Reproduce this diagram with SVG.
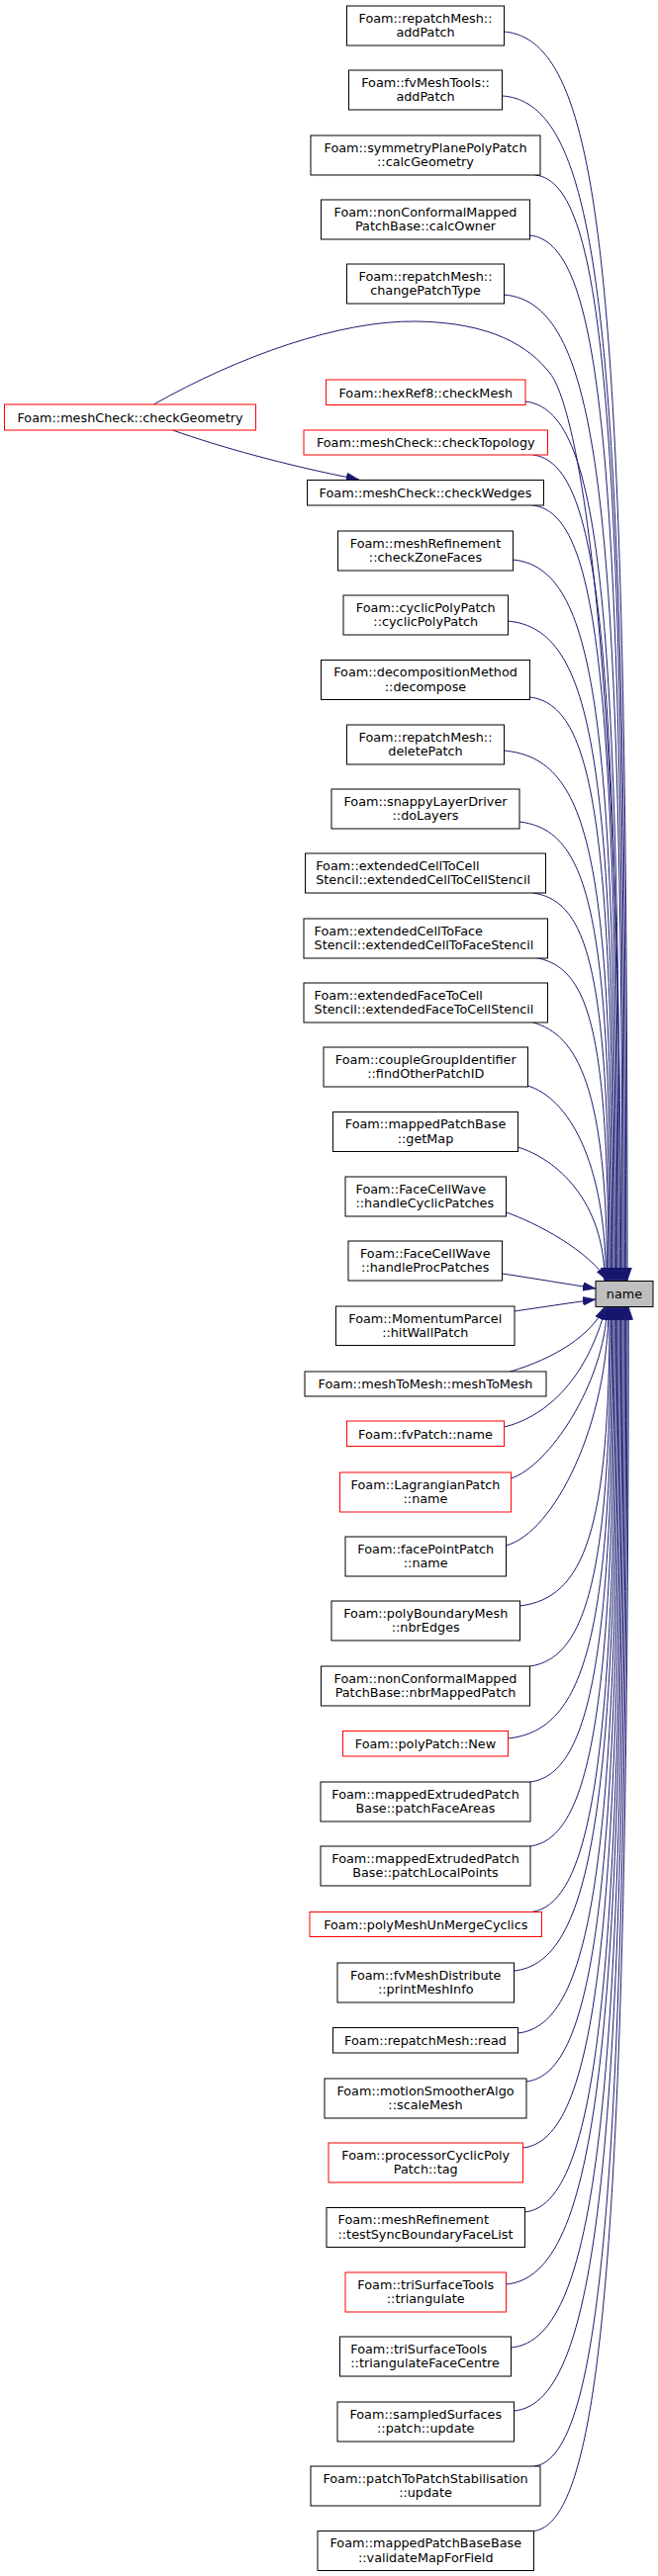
<svg xmlns="http://www.w3.org/2000/svg" width="665" height="2605" viewBox="0 0 665 2605">
<defs>
<style>
.node rect{fill:#fff;stroke:#000;stroke-width:1}
.node.red rect{stroke:#ff0000}
.node.root rect{fill:#bfbfbf}
text{font-family:"DejaVu Sans",sans-serif;font-size:12.8px;fill:#000;text-anchor:middle}
text.l{text-anchor:start}
#edges path{fill:none;stroke:#191970;stroke-width:1;marker-end:url(#ah)}
</style>
<marker id="ah" viewBox="0 0 13 9" refX="13" refY="4.5" markerWidth="13" markerHeight="9" markerUnits="userSpaceOnUse" orient="auto">
<path d="M0,0 L13,4.5 L0,9 z" fill="#191970" stroke="#191970" stroke-width="0.5"/>
</marker>
</defs>
<rect width="665" height="2605" fill="#fff"/>
<g id="edges">
<path d="M509,32 C613.6,40 634,307 634,1295"/>
<path d="M508,97 C612.3,105 632.7,358 632.7,1295"/>
<path d="M541,177 C611,185 631.4,420 631.4,1295"/>
<path d="M535.5,238 C609.8,246 630.1,468 630.1,1295"/>
<path d="M509,298 C608.5,306 628.9,515 628.9,1295"/>
<path d="M155.3,409 C241.9,360 343.7,324 420.1,325 C496.5,326 534.7,350 556.3,378 C579.2,408 627.6,600 627.6,1295"/>
<path d="M174.4,435 C222.8,452 286.4,470 362.8,485"/>
<path d="M530.8,406 C606,414 626.3,599 626.3,1295"/>
<path d="M538.5,460 C604.7,468 625,641 625,1295"/>
<path d="M538.5,511 C603.4,519 623.8,681 623.8,1295"/>
<path d="M518.1,566 C602.1,574 622.5,724 622.5,1295"/>
<path d="M513,628 C600.9,636 621.2,772 621.2,1295"/>
<path d="M535.5,705 C599.6,713 620,832 620,1295"/>
<path d="M509.2,759 C598.3,767 618.7,874 618.7,1295"/>
<path d="M524.5,831 C597,839 617.4,930 617.4,1295"/>
<path d="M538.5,903 C595.8,911 616.1,987 616.1,1295"/>
<path d="M538.5,968 C594.5,976 614.9,1037 614.9,1295"/>
<path d="M538.5,1034 C583,1046 613.6,1099 613.6,1295"/>
<path d="M533.4,1098 C572.9,1110 612.3,1172 612.3,1295"/>
<path d="M523.2,1160 C562.7,1172 611,1215 611,1295"/>
<path d="M511.4,1226 C541,1236 595.8,1265 613.6,1295"/>
<path d="M507.9,1288 C541,1293 570.3,1298 602,1303"/>
<path d="M519.6,1326 C547.4,1322 572.9,1318 602,1314"/>
<path d="M515.6,1387 C560.1,1374 598.3,1350 611,1321.5"/>
<path d="M509.4,1443 C547.4,1434 591.9,1400 612.3,1321.5"/>
<path d="M516.6,1495 C553.8,1483 611,1400 613.6,1321.5"/>
<path d="M511.2,1563 C560.1,1550 614.9,1440 614.9,1321.5"/>
<path d="M525.4,1624 C590.7,1616 616.1,1548 616.1,1321.5"/>
<path d="M535.5,1685 C591.9,1677 617.4,1594 617.4,1321.5"/>
<path d="M513.2,1758 C593.2,1750 618.7,1649 618.7,1321.5"/>
<path d="M535.9,1802 C594.5,1794 620,1682 620,1321.5"/>
<path d="M535.9,1867 C595.8,1859 621.2,1730 621.2,1321.5"/>
<path d="M537.2,1933.5 C597,1925 622.5,1780 622.5,1321.5"/>
<path d="M519.4,1993 C598.3,1985 623.8,1825 623.8,1321.5"/>
<path d="M523.4,2056 C599.6,2048 625,1872 625,1321.5"/>
<path d="M532,2105 C600.9,2097 626.3,1909 626.3,1321.5"/>
<path d="M528.4,2172 C602.1,2164 627.6,1959 627.6,1321.5"/>
<path d="M530.4,2237 C603.4,2229 628.9,2008 628.9,1321.5"/>
<path d="M511.4,2310 C604.7,2302 630.1,2063 630.1,1321.5"/>
<path d="M516.6,2374 C606,2366 631.4,2111 631.4,1321.5"/>
<path d="M519.4,2438 C607.2,2430 632.7,2159 632.7,1321.5"/>
<path d="M539.8,2494 C608.5,2486 633.9,2201 633.9,1321.5"/>
<path d="M539.4,2559.5 C609.8,2551 635.2,2249 635.2,1321.5"/>
</g>
<g id="n1" class="node"><rect x="350.5" y="6" width="159" height="40"/><text x="430" y="22.5">Foam::repatchMesh::</text><text x="430" y="37">addPatch</text></g>
<g id="n2" class="node"><rect x="352.5" y="71" width="155" height="40"/><text x="430" y="87.5">Foam::fvMeshTools::</text><text x="430" y="102">addPatch</text></g>
<g id="n3" class="node"><rect x="314" y="137" width="232" height="40"/><text x="430" y="153.5">Foam::symmetryPlanePolyPatch</text><text x="430" y="168">::calcGeometry</text></g>
<g id="n4" class="node"><rect x="324.5" y="202" width="211" height="40"/><text x="430" y="218.5">Foam::nonConformalMapped</text><text x="430" y="233">PatchBase::calcOwner</text></g>
<g id="n5" class="node"><rect x="350.5" y="267" width="159" height="40"/><text x="430" y="283.5">Foam::repatchMesh::</text><text x="430" y="298">changePatchType</text></g>
<g id="n6" class="node red"><rect x="4.5" y="409" width="254" height="26"/><text x="131.5" y="426.5">Foam::meshCheck::checkGeometry</text></g>
<g id="n7" class="node red"><rect x="329.5" y="384" width="201.5" height="25.5"/><text x="430.25" y="401.5">Foam::hexRef8::checkMesh</text></g>
<g id="n8" class="node red"><rect x="307" y="435" width="246.5" height="25"/><text x="430.25" y="452">Foam::meshCheck::checkTopology</text></g>
<g id="n9" class="node"><rect x="310.5" y="485.5" width="239" height="25.5"/><text x="430" y="503">Foam::meshCheck::checkWedges</text></g>
<g id="n10" class="node"><rect x="341.5" y="537" width="177" height="40"/><text x="430" y="553.5">Foam::meshRefinement</text><text x="430" y="568">::checkZoneFaces</text></g>
<g id="n11" class="node"><rect x="347" y="602" width="166.5" height="40"/><text x="430.25" y="618.5">Foam::cyclicPolyPatch</text><text x="430.25" y="633">::cyclicPolyPatch</text></g>
<g id="n12" class="node"><rect x="324.5" y="667.5" width="211" height="40"/><text x="430" y="684">Foam::decompositionMethod</text><text x="430" y="698.5">::decompose</text></g>
<g id="n13" class="node"><rect x="350.5" y="733" width="159" height="40"/><text x="430" y="749.5">Foam::repatchMesh::</text><text x="430" y="764">deletePatch</text></g>
<g id="n14" class="node"><rect x="335" y="798" width="190" height="40"/><text x="430" y="814.5">Foam::snappyLayerDriver</text><text x="430" y="829">::doLayers</text></g>
<g id="n15" class="node"><rect x="308.5" y="863" width="243" height="40"/><text class="l" x="319.2" y="879.5">Foam::extendedCellToCell</text><text class="l" x="319.2" y="894">Stencil::extendedCellToCellStencil</text></g>
<g id="n16" class="node"><rect x="307" y="929" width="246.5" height="40"/><text class="l" x="317.6" y="945.5">Foam::extendedCellToFace</text><text class="l" x="317.6" y="960">Stencil::extendedCellToFaceStencil</text></g>
<g id="n17" class="node"><rect x="307" y="994" width="246.5" height="40"/><text class="l" x="317.6" y="1010.5">Foam::extendedFaceToCell</text><text class="l" x="317.6" y="1025">Stencil::extendedFaceToCellStencil</text></g>
<g id="n18" class="node"><rect x="327" y="1059" width="206.5" height="40"/><text x="430.25" y="1075.5">Foam::coupleGroupIdentifier</text><text x="430.25" y="1090">::findOtherPatchID</text></g>
<g id="n19" class="node"><rect x="336.5" y="1124.5" width="187" height="40"/><text x="430" y="1141">Foam::mappedPatchBase</text><text x="430" y="1155.5">::getMap</text></g>
<g id="n20" class="node"><rect x="349" y="1190" width="162.5" height="40"/><text class="l" x="359.5" y="1206.5">Foam::FaceCellWave</text><text class="l" x="359.5" y="1221">::handleCyclicPatches</text></g>
<g id="n21" class="node"><rect x="352" y="1255" width="155.5" height="40"/><text x="429.75" y="1271.5">Foam::FaceCellWave</text><text x="429.75" y="1286">::handleProcPatches</text></g>
<g id="name" class="node root"><rect x="602" y="1295.5" width="58" height="26"/><text x="631" y="1313">name</text></g>
<g id="n22" class="node"><rect x="339.5" y="1321" width="180.5" height="39.5"/><text x="429.75" y="1337.5">Foam::MomentumParcel</text><text x="429.75" y="1352">::hitWallPatch</text></g>
<g id="n23" class="node"><rect x="308" y="1387" width="244" height="25"/><text x="430" y="1404">Foam::meshToMesh::meshToMesh</text></g>
<g id="n24" class="node red"><rect x="350.5" y="1437" width="159" height="25.5"/><text x="430" y="1454.5">Foam::fvPatch::name</text></g>
<g id="n25" class="node red"><rect x="343.5" y="1489" width="173" height="40"/><text x="430" y="1505.5">Foam::LagrangianPatch</text><text x="430" y="1520">::name</text></g>
<g id="n26" class="node"><rect x="349" y="1554" width="162.5" height="40"/><text x="430.25" y="1570.5">Foam::facePointPatch</text><text x="430.25" y="1585">::name</text></g>
<g id="n27" class="node"><rect x="335" y="1619" width="190.5" height="40"/><text x="430.25" y="1635.5">Foam::polyBoundaryMesh</text><text x="430.25" y="1650">::nbrEdges</text></g>
<g id="n28" class="node"><rect x="324.5" y="1685" width="211" height="40"/><text x="430" y="1701.5">Foam::nonConformalMapped</text><text x="430" y="1716">PatchBase::nbrMappedPatch</text></g>
<g id="n29" class="node red"><rect x="346.5" y="1750.5" width="167" height="25.5"/><text x="430" y="1768">Foam::polyPatch::New</text></g>
<g id="n30" class="node"><rect x="324" y="1802" width="212" height="40"/><text x="430" y="1818.5">Foam::mappedExtrudedPatch</text><text x="430" y="1833">Base::patchFaceAreas</text></g>
<g id="n31" class="node"><rect x="324" y="1867" width="212" height="40"/><text x="430" y="1883.5">Foam::mappedExtrudedPatch</text><text x="430" y="1898">Base::patchLocalPoints</text></g>
<g id="n32" class="node red"><rect x="313" y="1933.5" width="234.5" height="25"/><text x="430.25" y="1950.5">Foam::polyMeshUnMergeCyclics</text></g>
<g id="n33" class="node"><rect x="341" y="1985" width="178.5" height="40"/><text x="430.25" y="2001.5">Foam::fvMeshDistribute</text><text x="430.25" y="2016">::printMeshInfo</text></g>
<g id="n34" class="node"><rect x="336.5" y="2050.5" width="187" height="25.5"/><text x="430" y="2068">Foam::repatchMesh::read</text></g>
<g id="n35" class="node"><rect x="328" y="2102" width="204" height="40"/><text x="430" y="2118.5">Foam::motionSmootherAlgo</text><text x="430" y="2133">::scaleMesh</text></g>
<g id="n36" class="node red"><rect x="332" y="2167" width="196.5" height="40"/><text x="430.25" y="2183.5">Foam::processorCyclicPoly</text><text x="430.25" y="2198">Patch::tag</text></g>
<g id="n37" class="node"><rect x="330" y="2232.5" width="200.5" height="40"/><text class="l" x="341.5" y="2249">Foam::meshRefinement</text><text class="l" x="341.5" y="2263.5">::testSyncBoundaryFaceList</text></g>
<g id="n38" class="node red"><rect x="349" y="2298" width="162.5" height="40"/><text x="430.25" y="2314.5">Foam::triSurfaceTools</text><text x="430.25" y="2329">::triangulate</text></g>
<g id="n39" class="node"><rect x="343.5" y="2363" width="173" height="40"/><text class="l" x="354.3" y="2379.5">Foam::triSurfaceTools</text><text class="l" x="354.3" y="2394">::triangulateFaceCentre</text></g>
<g id="n40" class="node"><rect x="341" y="2429" width="178.5" height="40"/><text x="430.25" y="2445.5">Foam::sampledSurfaces</text><text x="430.25" y="2460">::patch::update</text></g>
<g id="n41" class="node"><rect x="314" y="2494" width="232" height="40"/><text x="430" y="2510.5">Foam::patchToPatchStabilisation</text><text x="430" y="2525">::update</text></g>
<g id="n42" class="node"><rect x="321" y="2559.5" width="218.5" height="40"/><text x="430.25" y="2576">Foam::mappedPatchBaseBase</text><text x="430.25" y="2590.5">::validateMapForField</text></g>
</svg>
